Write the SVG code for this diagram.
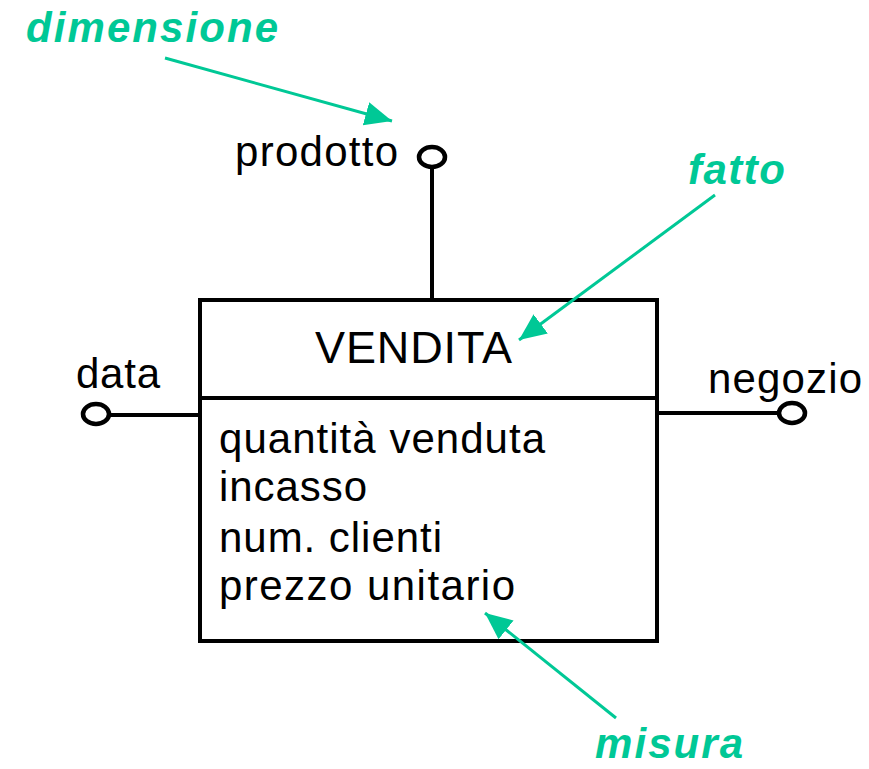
<svg xmlns="http://www.w3.org/2000/svg" width="869" height="769" viewBox="0 0 869 769">
<defs>
<style>
.lbl{font-family:"Liberation Sans",Arial,sans-serif;font-size:42px;fill:#000}
.big{font-family:"Liberation Sans",Arial,sans-serif;font-size:45px;fill:#000}
.note{font-family:"Liberation Sans",Arial,sans-serif;font-size:42px;font-weight:bold;font-style:italic;fill:#00C896}
.ln{stroke:#000;stroke-width:4;fill:none}
.dot{stroke:#000;stroke-width:4.5;fill:#fff}
.arr{stroke:#00C896;stroke-width:3;fill:none;marker-end:url(#ah)}
</style>
<marker id="ah" markerUnits="userSpaceOnUse" markerWidth="30" markerHeight="26" refX="27" refY="12" orient="auto">
<path d="M0,0 L27,12 L0,24 Z" fill="#00C896"/>
</marker>
</defs>
<rect width="869" height="769" fill="#fff"/>
<g id="connectors">
<line class="ln" x1="432" y1="167" x2="432" y2="300"/>
<line class="ln" x1="108" y1="415" x2="200" y2="415"/>
<line class="ln" x1="657" y1="413" x2="780" y2="413"/>
</g>
<g id="vendita">
<rect class="ln" x="200" y="300" width="457" height="341"/>
<line class="ln" x1="200" y1="398" x2="657" y2="398"/>
<text class="big" x="315" y="363" textLength="197">VENDITA</text>
<text class="lbl" x="219" y="453" textLength="326">quantità venduta</text>
<text class="lbl" x="219" y="501" textLength="148">incasso</text>
<text class="lbl" x="219" y="552" textLength="223">num. clienti</text>
<text class="lbl" x="219" y="600" textLength="296">prezzo unitario</text>
</g>
<g id="prodotto">
<ellipse class="dot" cx="432" cy="157" rx="13" ry="10"/>
<text class="lbl" x="235" y="166" textLength="163">prodotto</text>
</g>
<g id="data">
<ellipse class="dot" cx="96" cy="414" rx="13" ry="10"/>
<text class="lbl" x="76" y="388" textLength="84">data</text>
</g>
<g id="negozio">
<ellipse class="dot" cx="792" cy="413" rx="13" ry="10"/>
<text class="lbl" x="708" y="393" textLength="154">negozio</text>
</g>
<g id="annotations">
<text class="note" x="595" y="758" textLength="148">misura</text>
<text class="note" x="26" y="42" textLength="252">dimensione</text>
<text class="note" x="688" y="184" textLength="97">fatto</text>
<line class="arr" x1="165" y1="58" x2="392" y2="121"/>
<line class="arr" x1="715" y1="195" x2="519" y2="340"/>
<line class="arr" x1="616" y1="718" x2="485" y2="613"/>
</g>
</svg>
